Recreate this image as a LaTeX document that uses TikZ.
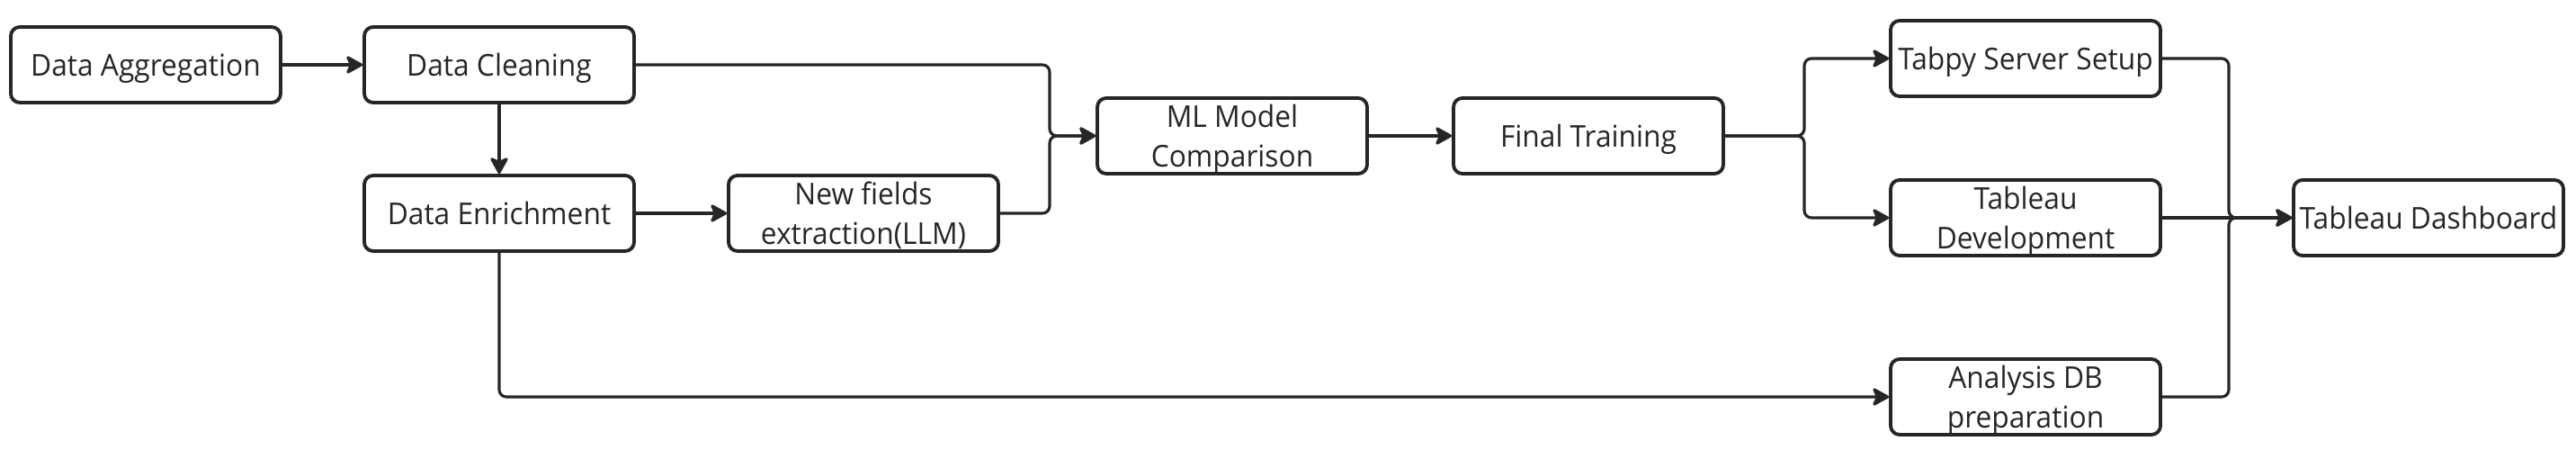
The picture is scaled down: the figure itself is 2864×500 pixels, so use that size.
\documentclass[tikz,border=0pt]{standalone}
\usepackage{fontspec}
\setmainfont[FakeStretch=0.95]{Open Sans}
\usepackage{tikz}
\usetikzlibrary{arrows.meta}

\definecolor{ink}{HTML}{262626}

\begin{document}
\begin{tikzpicture}[x=0.1mm, y=-0.1mm,
    stage/.style={draw=ink, line width=1.1pt, rounded corners=1mm,
        minimum width=30mm, minimum height=8.4mm, inner sep=0pt,
        align=center, text depth=0pt, text=ink,
        font=\fontsize{9.5}{12.5}\selectfont},
    flow/.style={draw=ink, line width=0.9pt, rounded corners=0.8mm,
        -{Stealth[length=2.1mm, width=2.3mm, inset=0.5mm, round]}}]
    \useasboundingbox (0,0) rectangle (2864,500);

    % Preparation of the data
    \node[stage] (agg) at (162,72) {Data Aggregation};
    \node[stage] (clean) at (555,72) {Data Cleaning};
    \node[stage] (enrich) at (555,237) {Data Enrichment};
    \node[stage] (llm) at (960,237) {New fields\\extraction(LLM)};

    % Modelling
    \node[stage] (ml) at (1370,151) {ML Model\\Comparison};
    \node[stage] (train) at (1766,151) {Final Training};

    % Deployment
    \node[stage] (tabpy) at (2252,65) {Tabpy Server Setup};
    \node[stage] (tabdev) at (2252,242) {Tableau\\Development};
    \node[stage] (adb) at (2252,441) {Analysis DB\\preparation};
    \node[stage] (dash) at (2700,242) {Tableau Dashboard};

    % Where the lines meet
    \coordinate (jml) at (1167,151);
    \coordinate (jft) at (2006,151);
    \coordinate (jdash) at (2478,242);

    \draw[flow] (agg) -- (clean);
    \draw[flow] (clean) -- (enrich);
    \draw[flow] (enrich) -- (llm);
    \draw[flow] (clean.east) -| (jml) -- (ml.west);
    \draw[flow] (llm.east) -| (jml) -- (ml.west);
    \draw[flow] (ml) -- (train);

    \draw[flow] (train.east) -- (jft) |- (tabpy.west);
    \draw[flow] (train.east) -- (jft) |- (tabdev.west);
    \draw[flow] (enrich.south) |- (adb.west);

    \draw[flow] (tabpy.east) -| (jdash) -- (dash.west);
    \draw[flow] (tabdev) -- (dash);
    \draw[flow] (adb.east) -| (jdash) -- (dash.west);
\end{tikzpicture}
\end{document}
